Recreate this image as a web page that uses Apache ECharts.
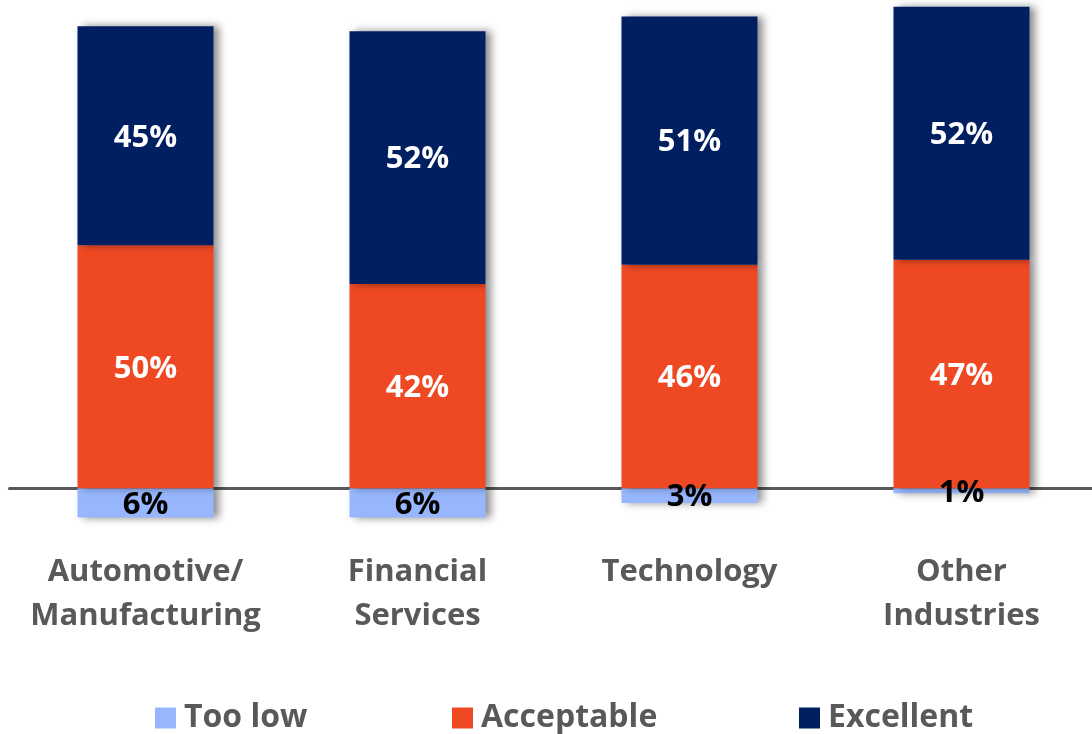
<!DOCTYPE html>
<html>
<head>
<meta charset="utf-8">
<script src="https://cdn.jsdelivr.net/npm/echarts@6/dist/echarts.min.js"></script>
<style>
  html, body { margin: 0; padding: 0; background: #ffffff; }
  #chart { width: 1092px; height: 734px; }
</style>
</head>
<body>
<div id="chart"></div>
<script>
// Industry groups along the horizontal axis
const categories = ['Automotive/\nManufacturing', 'Financial\nServices', 'Technology', 'Other\nIndustries'];

// Share of respondents (%) per rating; "Too low" is drawn below the baseline
const tooLow = [-6, -6, -3, -1];
const acceptable = [50, 42, 46, 47];
const excellent = [45, 52, 51, 52];

const seriesNames = ['Too low', 'Acceptable', 'Excellent'];
const seriesColors = ['#97B6FD', '#EF4923', '#001F60'];
const labelColors = ['#000000', '#ffffff', '#ffffff'];
const seriesData = [tooLow, acceptable, excellent];

const FONT = '"Open Sans", "Noto Sans", sans-serif';
const chart = echarts.init(document.getElementById('chart'), null, { renderer: 'canvas' });

const legendLefts = [155, 452, 799];

chart.setOption({
  animation: false,
  backgroundColor: '#ffffff',
  grid: {
    left: 9.5, top: 2, width: 1088, height: 535,
    containLabel: false,
    outerBoundsMode: 'none'
  },
  legend: seriesNames.map((name, i) => ({
    data: [name],
    left: legendLefts[i],
    top: 702,
    padding: 0,
    itemWidth: 21,
    itemHeight: 21,
    icon: 'rect',
    textStyle: {
      fontFamily: FONT, fontSize: 32, fontWeight: 'bold', color: '#595959',
      padding: [0, 0, 0, 3]
    }
  })),
  xAxis: [
    {
      type: 'category',
      data: categories,
      axisLine: { onZero: true, lineStyle: { color: '#595959', width: 3 } },
      axisTick: { show: false },
      axisLabel: { show: false }
    },
    {
      type: 'category',
      data: categories,
      position: 'bottom',
      axisLine: { show: false, onZero: false },
      axisTick: { show: false },
      axisLabel: {
        interval: 0,
        margin: 13,
        fontFamily: FONT,
        fontSize: 31,
        fontWeight: 'bold',
        lineHeight: 44,
        color: '#595959'
      }
    }
  ],
  yAxis: {
    type: 'value',
    min: -10,
    max: 100,
    show: false,
    splitLine: { show: false }
  },
  series: seriesNames.map((name, i) => ({
    name: name,
    type: 'bar',
    stack: 'rating',
    xAxisIndex: 0,
    barWidth: '50%',
    data: seriesData[i],
    itemStyle: {
      color: seriesColors[i],
      shadowColor: 'rgba(0,0,0,0.45)',
      shadowBlur: 8,
      shadowOffsetX: 5,
      shadowOffsetY: 0
    },
    label: {
      show: true,
      position: 'inside',
      offset: [0, 2],
      fontFamily: FONT,
      fontSize: 31,
      fontWeight: 'bold',
      color: labelColors[i],
      formatter: p => Math.abs(p.value) + '%'
    }
  }))
});
</script>
</body>
</html>
